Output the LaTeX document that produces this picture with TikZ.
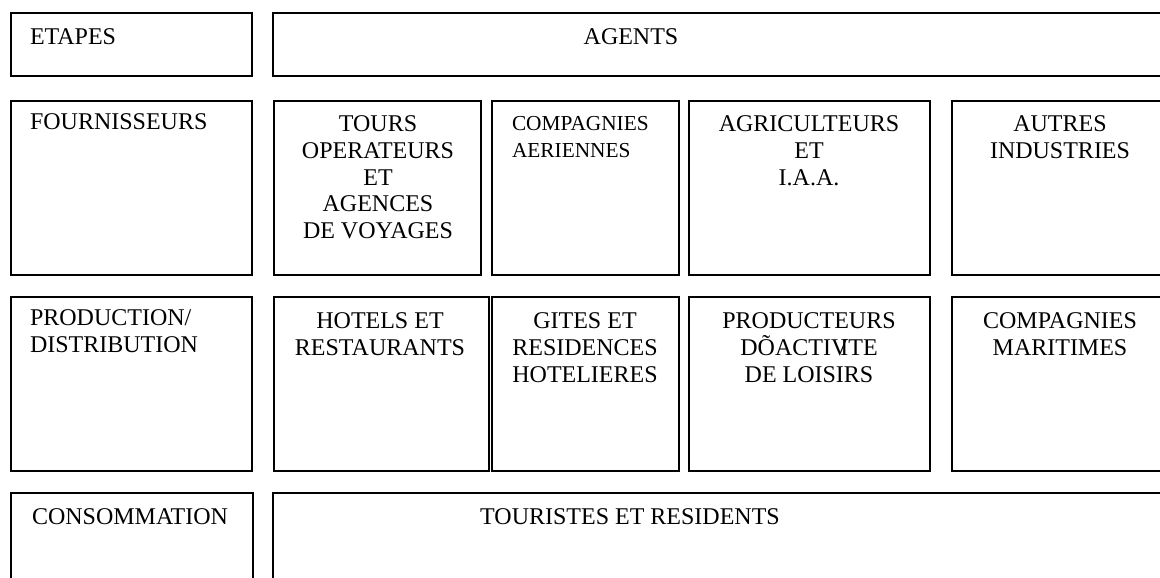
\documentclass[tikz,border=0pt]{standalone}
\usepackage{fontspec}
\setmainfont{Liberation Serif}
\tikzset{
  cadre/.style={draw=black, line width=1.1pt, rectangle, inner sep=0pt, outer sep=0pt},
  txt/.style={inner sep=0pt, outer sep=0pt, font=\fontsize{18}{20}\selectfont},
  txtsmall/.style={inner sep=0pt, outer sep=0pt, font=\fontsize{16}{20.25}\selectfont},
}
\newcommand\cadre[5]{\node[cadre, minimum width={(#4-#2)*0.75}, minimum height={(#5-#3)*0.75}] (#1) at ({(#2+#4)/2},{(#3+#5)/2}) {};}
\begin{document}
\begin{tikzpicture}[x=0.75pt,y=-0.75pt]
\clip (0,0) rectangle (1160,578);
\fill[white] (0,0) rectangle (1160,578);
% row 1
\cadre{etapes}{11}{13}{252}{76}
\cadre{agents}{273}{13}{1168}{76}
% row 2
\cadre{fourn}{11}{101}{252}{275}
\cadre{tours}{274}{101}{481}{275}
\cadre{aeri}{492}{101}{679}{275}
\cadre{agri}{689}{101}{930}{275}
\cadre{autres}{952}{101}{1168}{275}
% row 3
\cadre{prod}{11}{297}{252}{471}
\cadre{hotels}{274}{297}{489}{471}
\cadre{gites}{492}{297}{679}{471}
\cadre{loisirs}{689}{297}{930}{471}
\cadre{marit}{952}{297}{1168}{471}
% row 4
\cadre{conso}{11}{493}{253}{600}
\cadre{touristes}{273}{493}{1168}{600}
% texts
\node[txt, anchor=north west] (tetapes) at (30,29) {ETAPES};
\node[txt, anchor=north] (tagents) at (631,29) {AGENTS};
\node[txt, anchor=north west] (tfourn) at (30,114) {FOURNISSEURS};
\node[txt, anchor=north, align=center] (ttours) at (378,116) {TOURS\\OPERATEURS\\ET\\AGENCES\\DE VOYAGES};
\node[txtsmall, anchor=north west, align=left] (taeri) at (512,116) {COMPAGNIES\\AERIENNES};
\node[txt, anchor=north, align=center] (tagri) at (809,116) {AGRICULTEURS\\ET\\I.A.A.};
\node[txt, anchor=north, align=center] (tautres) at (1060,116) {AUTRES\\INDUSTRIES};
\node[txt, anchor=north west, align=left] (tprod) at (30,310) {PRODUCTION/\\DISTRIBUTION};
\node[txt, anchor=north, align=center] (thotels) at (380,313) {HOTELS ET\\RESTAURANTS};
\node[txt, anchor=north, align=center] (tgites) at (585,313) {GITES ET\\RESIDENCES\\HOTELIERES};
\node[txt, anchor=north, align=center] (tloisirs) at (809,313) {PRODUCTEURS\\DÕACTIV\llap{I}TE\\DE LOISIRS};
\node[txt, anchor=north, align=center] (tmarit) at (1060,313) {COMPAGNIES\\MARITIMES};
\node[txt, anchor=north west] (tconso) at (32,509) {CONSOMMATION};
\node[txt, anchor=north] (ttouristes) at (630,509) {TOURISTES ET RESIDENTS};
\end{tikzpicture}
\end{document}
